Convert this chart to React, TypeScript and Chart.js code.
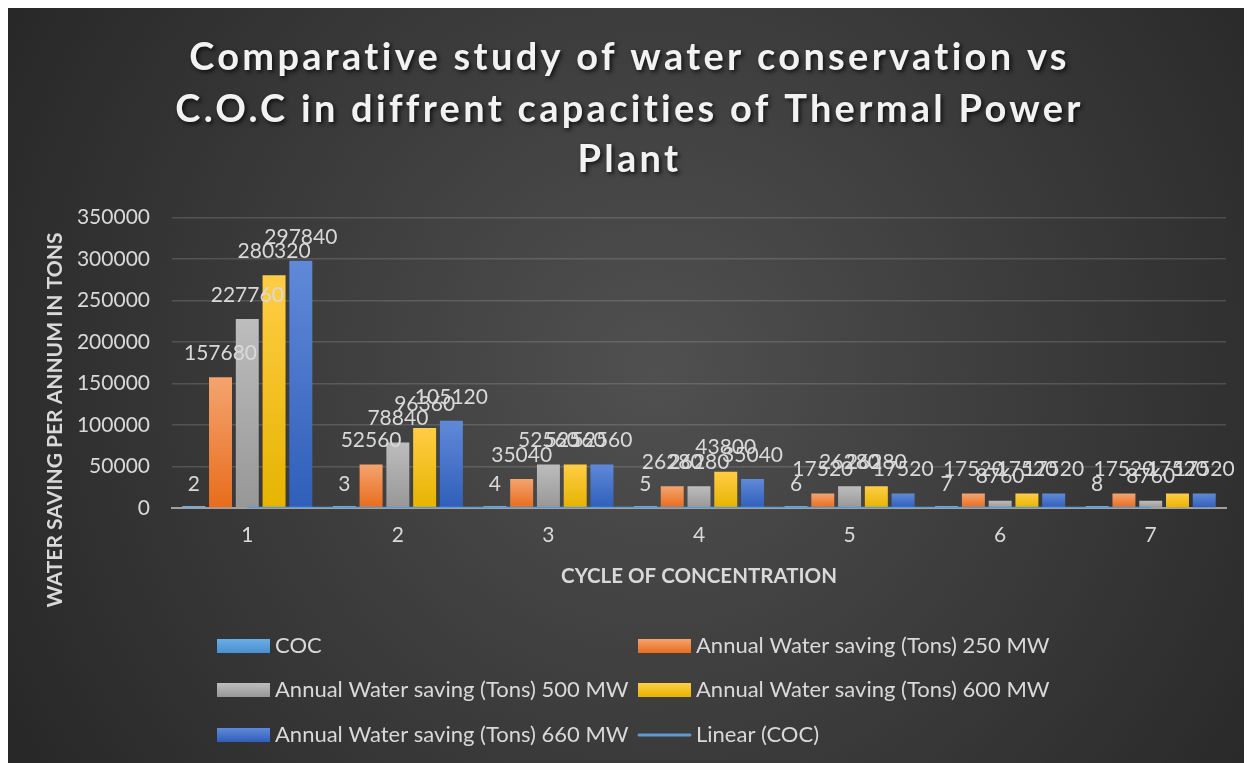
import React, { useEffect, useRef } from "react";
import { Chart, registerables } from "chart.js";

Chart.register(...registerables);

// ---------- data ----------
const categories = ["1", "2", "3", "4", "5", "6", "7"];
const cocValues = [2, 3, 4, 5, 6, 7, 8];
const mw250 = [157680, 52560, 35040, 26280, 17520, 17520, 17520];
const mw500 = [227760, 78840, 52560, 26280, 26280, 8760, 8760];
const mw600 = [280320, 96360, 52560, 43800, 26280, 17520, 17520];
const mw660 = [297840, 105120, 52560, 35040, 17520, 17520, 17520];
const trendCOC = [2, 3, 4, 5, 6, 7, 8];
const yTicks = [0, 50000, 100000, 150000, 200000, 250000, 300000, 350000];

const seriesNames = [
  "COC",
  "Annual Water saving (Tons) 250 MW",
  "Annual Water saving (Tons) 500 MW",
  "Annual Water saving (Tons) 600 MW",
  "Annual Water saving (Tons) 660 MW",
];
const trendName = "Linear (COC)";
const titleLines = [
  "Comparative study of water conservation vs",
  "C.O.C in diffrent capacities of Thermal Power",
  "Plant",
];
const xTitle = "CYCLE OF CONCENTRATION";
const yTitle = "WATER SAVING PER ANNUM IN TONS";

// ---------- styles ----------
const W = 1245;
const H = 755;
const FONT = 'Lato, "Open Sans", sans-serif';
const TEXT = "#d9d9d9";
const palettes = [
  ["#6aaee6", "#4a8fd2"],
  ["#f4a470", "#e86c1c"],
  ["#bdbdbd", "#979797"],
  ["#ffcd45", "#e6b400"],
  ["#6089d8", "#2f5fba"],
];

function barGradient(idx: number) {
  return (c: any) => {
    const chart = c.chart;
    const { ctx, chartArea, scales } = chart;
    const [light, dark] = palettes[idx];
    if (!chartArea || !scales || !scales.y || c.raw == null) return dark;
    const top = scales.y.getPixelForValue(c.raw);
    const bottom = scales.y.getPixelForValue(0);
    if (bottom - top < 2) return light;
    const g = ctx.createLinearGradient(0, top, 0, bottom);
    g.addColorStop(0, light);
    g.addColorStop(1, dark);
    return g;
  };
}

const bgPlugin = {
  id: "bg",
  beforeDraw(chart: any) {
    const { ctx, width, height } = chart;
    ctx.save();
    const g = ctx.createRadialGradient(width * 0.52, height * 0.48, 0, width * 0.52, height * 0.48, width * 0.62);
    g.addColorStop(0, "#505050");
    g.addColorStop(1, "#262626");
    ctx.fillStyle = g;
    ctx.fillRect(0, 0, width, height);
    ctx.restore();
  },
};

const labelPlugin = {
  id: "labels",
  afterDatasetsDraw(chart: any) {
    const { ctx } = chart;
    ctx.save();
    ctx.font = `21px ${FONT}`;
    ctx.fillStyle = TEXT;
    ctx.textAlign = "center";
    ctx.textBaseline = "middle";
    chart.data.datasets.forEach((ds: any, di: number) => {
      if (ds.type === "line") return;
      const meta = chart.getDatasetMeta(di);
      meta.data.forEach((el: any, i: number) => {
        const top = chart.scales.y.getPixelForValue(ds.data[i]);
        ctx.fillText(String(ds.data[i]), el.x, top - 24);
      });
    });
    ctx.restore();
  },
};

const decorPlugin = {
  id: "decor",
  afterDraw(chart: any) {
    const { ctx, width, chartArea } = chart;
    ctx.save();
    // title
    ctx.font = `bold 38px ${FONT}`;
    ctx.textAlign = "center";
    ctx.textBaseline = "middle";
    ctx.fillStyle = "#f2f2f2";
    ctx.shadowColor = "rgba(0,0,0,0.75)";
    ctx.shadowBlur = 4;
    ctx.shadowOffsetX = 2;
    ctx.shadowOffsetY = 2;
    try {
      (ctx as any).letterSpacing = "0px";
      const w0 = ctx.measureText(titleLines[0]).width;
      const ls = Math.max(0, (882 - w0) / titleLines[0].length);
      (ctx as any).letterSpacing = ls + "px";
    } catch (e) {}
    const ys = [50, 102, 152];
    titleLines.forEach((t, i) => ctx.fillText(t, width / 2, ys[i]));
    try { (ctx as any).letterSpacing = "0px"; } catch (e) {}
    ctx.shadowColor = "transparent";
    ctx.shadowBlur = 0;
    ctx.shadowOffsetX = 0;
    ctx.shadowOffsetY = 0;

    // axis titles
    ctx.fillStyle = TEXT;
    ctx.font = `bold 20.5px ${FONT}`;
    ctx.fillText(xTitle, (chartArea.left + chartArea.right) / 2, 568);
    ctx.save();
    ctx.font = `bold 21px ${FONT}`;
    ctx.translate(48, 412);
    ctx.rotate(-Math.PI / 2);
    ctx.fillText(yTitle, 0, 0);
    ctx.restore();

    // legend
    ctx.font = `22px ${FONT}`;
    ctx.textAlign = "left";
    const colX = [210, 631];
    const rowY = [638, 682, 727];
    const items = [...seriesNames.map((n, i) => ({ n, i, line: false })), { n: trendName, i: 0, line: true }];
    items.forEach((it, k) => {
      const x = colX[k % 2];
      const y = rowY[Math.floor(k / 2)];
      if (it.line) {
        ctx.strokeStyle = "#5b9bd5";
        ctx.lineWidth = 3;
        ctx.lineCap = "round";
        ctx.beginPath();
        ctx.moveTo(x + 1, y);
        ctx.lineTo(x + 52, y);
        ctx.stroke();
      } else {
        const g = ctx.createLinearGradient(0, y - 7, 0, y + 7);
        g.addColorStop(0, palettes[it.i][0]);
        g.addColorStop(1, palettes[it.i][1]);
        ctx.fillStyle = g;
        ctx.fillRect(x, y - 7, 53, 14);
      }
      ctx.fillStyle = TEXT;
      ctx.fillText(it.n, x + 58, y);
    });
    ctx.restore();
  },
};

export default function App() {
  const ref = useRef<HTMLCanvasElement | null>(null);
  useEffect(() => {
    document.documentElement.style.overflow = "hidden";
    document.body.style.overflow = "hidden";
    if (!ref.current) return;
    const barDatasets = [cocValues, mw250, mw500, mw600, mw660].map((d, i) => ({
      type: "bar" as const,
      label: seriesNames[i],
      data: d,
      backgroundColor: barGradient(i),
      borderWidth: 0,
      minBarLength: i === 0 ? 2 : 0,
      categoryPercentage: 0.889,
      barPercentage: 0.858,
      order: 2,
    }));
    const chart = new Chart(ref.current, {
      type: "bar",
      data: {
        labels: categories,
        datasets: [
          ...barDatasets,
          {
            type: "line" as const,
            label: trendName,
            data: trendCOC,
            borderColor: "#5b9bd5",
            borderWidth: 2.5,
            pointRadius: 0,
            fill: false,
            order: 0,
          } as any,
        ],
      },
      options: {
        responsive: false,
        animation: false,
        layout: { padding: { top: 209.5, left: 0, right: 26, bottom: 215 } },
        plugins: { legend: { display: false }, title: { display: false }, tooltip: { enabled: false } },
        scales: {
          x: {
            grid: { display: false, drawTicks: false },
            border: { display: true, color: "#a0a0a0", width: 2 },
            ticks: { color: TEXT, font: { family: FONT, size: 21 }, padding: 15 },
            afterFit: (s: any) => { s.height = 40; },
          },
          y: {
            min: 0,
            max: 350000,
            afterBuildTicks: (s: any) => { s.ticks = yTicks.map((v) => ({ value: v })); },
            grid: { color: "rgba(217,217,217,0.18)", lineWidth: 1.5, drawTicks: false },
            border: { display: false },
            ticks: { color: TEXT, font: { family: FONT, size: 21 }, padding: 22, callback: (v: any) => String(v) },
            afterFit: (s: any) => { s.width = 165; },
          },
        },
      },
      plugins: [bgPlugin, labelPlugin, decorPlugin],
    });
    return () => chart.destroy();
  }, []);
  return (
    <div style={{ width: W, height: H, marginLeft: -1 }}>
      <canvas ref={ref} width={W} height={H} style={{ width: W, height: H, display: "block" }} />
    </div>
  );
}
